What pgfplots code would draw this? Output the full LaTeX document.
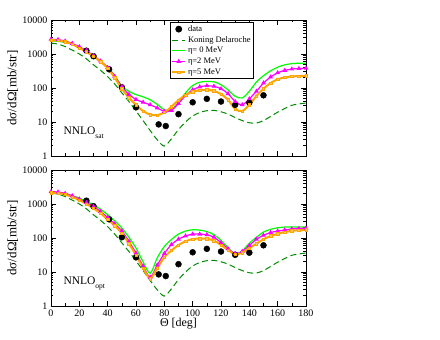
\documentclass[border=0pt]{standalone}
\usepackage{fontspec}
\setmainfont{Liberation Serif}
\usepackage{pgfplots}
\usepackage{pgfplotstable}
\pgfplotsset{compat=1.18}

\definecolor{grgreen}{RGB}{0,255,0}
\definecolor{grgreenfour}{RGB}{0,139,0}
\definecolor{grmagenta}{RGB}{255,0,255}
\definecolor{grorange}{RGB}{255,165,0}

% measured data (same in both panels)
\pgfplotstableread{
th   xs
25   1250
30   860
41   355
50   105
60   27
76   8.5
81   7.6
90   17
100  38
110  48
120  40
130  32
140  37
150  61
}\expdata

% NNLO_sat panel: Koning-Delaroche, eta=0, eta=2, eta=5
\pgfplotstableread{
th   kd    g0    m2    o5
0    2100  2450  2700  2560
5    1950  2350  2650  2500
10   1650  2200  2400  2300
15   1300  1900  2050  1950
20   1000  1580  1630  1500
25   720   1200  1250  1150
30   480   830   900   850
35   330   600   620   590
40   215   410   400   380
45   130   230   220   200
50   72    115   110   95
55   40    80    65    52
60   21    64    46    32
65   11    55    38    21
70   5.6   45    32    16.5
75   3.0   33    26    16
80   1.95  23    20.5  19
85   3.2   23    22    28
90   6     38    35    44
95   10    72    60    62
100  15    118   88    78
105  19    148   108   86
110  21.5  156   116   88
115  22    152   112   82
120  20    125   95    66
125  17    88    68    45
130  13.5  57    40    24
135  11    51    32    21
140  9.5   80    48    32
145  9.3   150   80    58
150  11    230   140   95
155  14.5  320   210   140
160  19.5  410   280   180
165  25    480   330   205
170  31    520   360   218
175  34    535   375   225
180  36    535   380   230
}\satdata

% NNLO_opt panel
\pgfplotstableread{
th   kd    g0    m2    o5
0    2100  2200  2300  2150
5    1950  2150  2250  2100
10   1650  2000  2050  1900
15   1300  1750  1750  1600
20   1000  1500  1400  1300
25   720   1200  1100  1000
30   480   950   850   750
35   330   700   600   530
40   215   485   400   350
45   130   320   260   230
50   72    196   160   140
55   40    105   80    68
60   21    51    36    31
65   11    20    15    13
70   5.6   9.2   7.0   6.4
75   3.0   26    16    13
80   1.95  56    35    27
85   3.2   90    64    43
90   6     130   92    62
95   10    160   115   80
100  15    175   130   93
105  19    170   130   96
110  21.5  155   125   95
115  22    125   105   84
120  20    85    73    62
125  17    52    48    44
130  13.5  34    35    33
135  11    42    40    37
140  9.5   70    60    50
145  9.3   105   92    68
150  11    150   120   92
155  14.5  180   145   115
160  19.5  200   160   132
165  25    210   172   150
170  31    210   185   162
175  34    210   190   170
180  36    210   195   173
}\optdata

\pgfplotsset{
  mypanel/.style={
    scale only axis, width=255pt, height=136pt,
    xmin=0, xmax=180,
    xtick={0,20,...,180}, minor x tick num=1,
    ytick={1,10,100,1000,10000},
    yticklabels={1,10,100,1000,10000},
    tick align=inside, tick pos=both,
    major tick length=5pt, minor tick length=2.5pt,
    axis line style={line width=0.8pt},
    every tick/.append style={black, line width=0.6pt},
    tick label style={font=\fontsize{10}{12}\selectfont},
    ylabel={dσ/dΩ[mb/str]},
    ylabel style={at={(axis description cs:-0.15,0.5)}, anchor=center,
      font=\fontsize{13}{15}\selectfont},
  },
  kd/.style={grgreenfour, line width=1pt, dash pattern=on 6pt off 3.5pt, smooth},
  eta0/.style={grgreen, line width=1.2pt, smooth},
  eta2/.style={grmagenta, line width=1.2pt, smooth, mark=triangle*, mark size=1.6pt},
  eta5/.style={grorange, line width=2pt, smooth, mark=square*, mark size=1.2pt,
    mark options={fill=grorange!60, draw=grorange, line width=0.5pt}},
}

\begin{document}
\begin{tikzpicture}
\path[use as bounding box] (0,0) rectangle (440pt,340pt);

\begin{axis}[mypanel, ymode=log, ymin=1, ymax=10000,
    at={(51pt,184pt)}, anchor=south west,
    xticklabels={},
    legend style={at={(axis description cs:0.467,0.985)}, anchor=north west,
      draw=black, line width=0.8pt, font=\fontsize{8.5}{10}\selectfont,
      inner sep=1pt, row sep=-0.5pt},
    legend image code/.code={
      \draw[mark repeat=2, mark phase=2, #1]
        plot coordinates {(0cm,0cm) (0.22cm,0cm) (0.44cm,0cm)};},
    legend cell align=left,
    /pgf/number format/assume math mode=true]
\addplot[only marks, mark=*, mark size=3pt, black] table[x=th, y=xs] {\expdata};
\addplot[kd] table[x=th, y=kd] {\satdata};
\addplot[eta0] table[x=th, y=g0] {\satdata};
\addplot[eta2] table[x=th, y=m2] {\satdata};
\addplot[eta5] table[x=th, y=o5] {\satdata};
\legend{data, Koning Delaroche, η= 0 MeV, η=2 MeV, η=5 MeV}
\node[anchor=base west, inner sep=0pt, font=\fontsize{11.5}{13}\selectfont]
  at (axis cs:8.7,4.4) {NNLO\raisebox{-4.5pt}{\fontsize{7.5}{8}\selectfont sat}};
\end{axis}

\begin{axis}[mypanel, ymode=log, ymin=1, ymax=10000,
    at={(51pt,34pt)}, anchor=south west,
    xlabel={Θ [deg]},
    xlabel style={at={(axis description cs:0.5,-0.132)}, anchor=center,
      font=\fontsize{12}{14}\selectfont},
    /pgf/number format/assume math mode=true]
\addplot[only marks, mark=*, mark size=3pt, black] table[x=th, y=xs] {\expdata};
\addplot[kd] table[x=th, y=kd] {\optdata};
\addplot[eta0] table[x=th, y=g0] {\optdata};
\addplot[eta2] table[x=th, y=m2] {\optdata};
\addplot[eta5] table[x=th, y=o5] {\optdata};
\node[anchor=base west, inner sep=0pt, font=\fontsize{11.5}{13}\selectfont]
  at (axis cs:8.7,4.4) {NNLO\raisebox{-4.5pt}{\fontsize{7.5}{8}\selectfont opt}};
\end{axis}
\end{tikzpicture}
\end{document}
